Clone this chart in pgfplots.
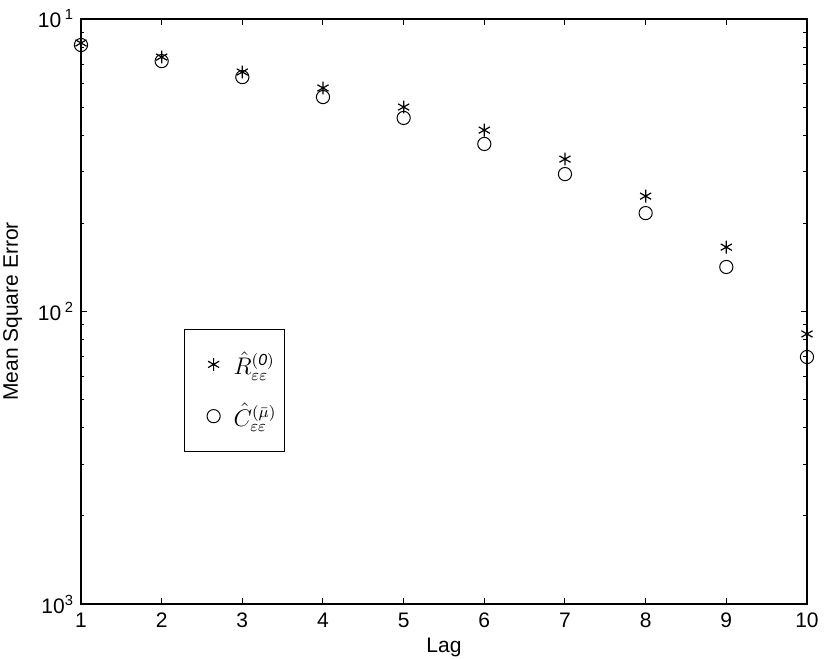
\documentclass[border=0pt]{standalone}
\usepackage{fontspec}
\setmainfont{Liberation Sans}
\newfontfamily\seriffont{Liberation Serif}
\usepackage{pgfplots}
\pgfplotsset{compat=1.18}
\begin{document}
\begin{tikzpicture}
\begin{axis}[
  scale only axis,
  width=363pt, height=292.5pt,
  xmin=1, xmax=10,
  ymode=log, ymin=1e-3, ymax=1e-1,
  xtick={1,2,3,4,5,6,7,8,9,10},
  ytick={0.001,0.01,0.1},
  yticklabels={10\textsuperscript{3},10\,\textsuperscript{2},10\,\textsuperscript{1}},
  tick align=inside,
  major tick length=3pt,
  minor tick length=1.75pt,
  every tick/.style={black, line width=0.5pt},
  axis line style={line width=0.6pt},
  /pgf/number format/assume math mode=true,
  tick label style={font=\fontsize{10.5}{12}\selectfont},
  label style={font=\fontsize{10.5}{12}\selectfont},
  xticklabel style={yshift=-1pt},
  xlabel={Lag},
  ylabel={Mean Square Error},
  xlabel style={yshift=2pt},
  ylabel style={yshift=1pt},
  clip=false,
  legend style={at={(rel axis cs:0.142,0.470)}, anchor=north west,
    draw=black, line width=0.5pt, inner xsep=2pt, inner ysep=9pt,
    row sep=9pt, font=\fontsize{12}{14}\selectfont\seriffont,
    legend cell align=left},
  legend image code/.code={%
    \path[draw=none] (0cm,0cm) -- (0.72cm,0cm);
    \draw[#1] plot coordinates {(0.44cm,0cm)};},
]
\addplot[only marks, mark=asterisk, mark size=3.2pt, black, line width=0.6pt] coordinates {
  (1,0.0828) (2,0.0741) (3,0.0659) (4,0.0581) (5,0.0500)
  (6,0.0417) (7,0.0332) (8,0.0248) (9,0.0166) (10,0.00838)
};
\addlegendentry{$\hat{R}^{(\mathit{0})}_{\varepsilon\varepsilon}$}
\addplot[only marks, mark=o, mark size=3.3pt, black, line width=0.5pt] coordinates {
  (1,0.0815) (2,0.0718) (3,0.0633) (4,0.0541) (5,0.0459)
  (6,0.0374) (7,0.0295) (8,0.0217) (9,0.0142) (10,0.00699)
};
\addlegendentry{$\hat{C}^{(\bar{\mu})}_{\varepsilon\varepsilon}$}
\end{axis}
\pgfresetboundingbox
\path[use as bounding box] (-40.5pt,-27.5pt) rectangle (375pt,302pt);
\end{tikzpicture}
\end{document}
